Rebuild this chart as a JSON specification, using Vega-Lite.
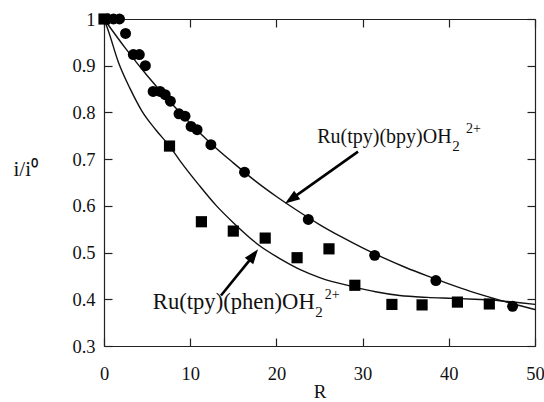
{
  "$schema": "https://vega.github.io/schema/vega-lite/v6.json",
  "width": 431,
  "height": 327,
  "autosize": "none",
  "padding": {"left": 104, "top": 19, "right": 9, "bottom": 56},
  "background": "white",
  "config": {
    "view": {"stroke": null},
    "font": "Liberation Serif",
    "style": {
      "guide-label": {"font": "Liberation Serif", "fontSize": 18.5, "fill": "#111"},
      "guide-title": {"font": "Liberation Serif", "fontSize": 20, "fontWeight": "normal", "fill": "#111"}
    },
    "axis": {
      "grid": false,
      "domainColor": "#222",
      "tickColor": "#222",
      "domainWidth": 1.2,
      "tickWidth": 1.2,
      "tickSize": -8,
      "labelFont": "Liberation Serif",
      "titleFont": "Liberation Serif"
    }
  },
  "datasets": {
    "bpy": [
      {"R": 0.4, "v": 1.0}, {"R": 1.1, "v": 1.0}, {"R": 1.8, "v": 1.0},
      {"R": 2.5, "v": 0.969}, {"R": 3.4, "v": 0.924}, {"R": 4.1, "v": 0.924},
      {"R": 4.8, "v": 0.9}, {"R": 5.7, "v": 0.845}, {"R": 6.5, "v": 0.845},
      {"R": 7.1, "v": 0.838}, {"R": 7.7, "v": 0.824}, {"R": 8.7, "v": 0.797},
      {"R": 9.4, "v": 0.792}, {"R": 10.1, "v": 0.77}, {"R": 10.8, "v": 0.763},
      {"R": 12.4, "v": 0.731}, {"R": 16.3, "v": 0.672}, {"R": 23.7, "v": 0.571},
      {"R": 31.4, "v": 0.494}, {"R": 38.5, "v": 0.44}, {"R": 47.4, "v": 0.385}
    ],
    "phen": [
      {"R": 0.0, "v": 1.0}, {"R": 7.6, "v": 0.728}, {"R": 11.3, "v": 0.566},
      {"R": 15.0, "v": 0.546}, {"R": 18.7, "v": 0.531}, {"R": 22.4, "v": 0.489},
      {"R": 26.1, "v": 0.508}, {"R": 29.1, "v": 0.43}, {"R": 33.4, "v": 0.389},
      {"R": 36.9, "v": 0.388}, {"R": 41.0, "v": 0.394}, {"R": 44.7, "v": 0.39}
    ],
    "bpyfit": [
      {"R": 0, "v": 1.0}, {"R": 2.5, "v": 0.937}, {"R": 5, "v": 0.879},
      {"R": 7.5, "v": 0.826}, {"R": 10, "v": 0.777}, {"R": 12.5, "v": 0.732},
      {"R": 15, "v": 0.692}, {"R": 17.5, "v": 0.654}, {"R": 20, "v": 0.62},
      {"R": 22.5, "v": 0.589}, {"R": 25, "v": 0.56}, {"R": 27.5, "v": 0.534},
      {"R": 30, "v": 0.51}, {"R": 32.5, "v": 0.488}, {"R": 35, "v": 0.468},
      {"R": 37.5, "v": 0.45}, {"R": 40, "v": 0.433}, {"R": 42.5, "v": 0.417},
      {"R": 45, "v": 0.403}, {"R": 47.5, "v": 0.39}, {"R": 50, "v": 0.378}
    ],
    "phenfit": [
      {"R": 0, "v": 1.0}, {"R": 0.5, "v": 0.975}, {"R": 1.66, "v": 0.908},
      {"R": 3, "v": 0.852}, {"R": 4.4, "v": 0.803}, {"R": 6, "v": 0.763},
      {"R": 7.6, "v": 0.728}, {"R": 8.8, "v": 0.697}, {"R": 11, "v": 0.645},
      {"R": 13, "v": 0.601}, {"R": 15, "v": 0.564}, {"R": 18.1, "v": 0.514},
      {"R": 20.5, "v": 0.486}, {"R": 22.7, "v": 0.464}, {"R": 25.1, "v": 0.446},
      {"R": 28.9, "v": 0.427}, {"R": 31.5, "v": 0.416}, {"R": 34.3, "v": 0.408},
      {"R": 37.5, "v": 0.404}, {"R": 40.5, "v": 0.402}, {"R": 43, "v": 0.4},
      {"R": 45.9, "v": 0.397}, {"R": 48, "v": 0.393}, {"R": 50, "v": 0.389}
    ],
    "arrows": [
      {"name": "bpy", "R": 29.47, "v": 0.716, "R2": 21.75, "v2": 0.615, "tipR": 21.0, "tipV": 0.605},
      {"name": "phen", "R": 13.57, "v": 0.408, "R2": 17.3, "v2": 0.493, "tipR": 17.87, "tipV": 0.507}
    ],
    "labels": [
      {"R": 40.33, "v": 0.735, "t": "Ru(tpy)(bpy)OH"}
    ],
    "labels2": [
      {"R": 24.45, "v": 0.38, "t": "Ru(tpy)(phen)OH"}
    ],
    "subs": [
      {"R": 40.4, "v": 0.718, "t": "2"},
      {"R": 24.52, "v": 0.362, "t": "2"}
    ],
    "sups": [
      {"R": 42.0, "v": 0.755, "t": "2+"},
      {"R": 25.6, "v": 0.4, "t": "2+"}
    ]
  },
  "resolve": {"axis": {"x": "independent", "y": "independent"}},
  "layer": [
    {
      "data": {"name": "bpyfit"},
      "mark": {"type": "line", "color": "#111", "strokeWidth": 1.4, "interpolate": "monotone"},
      "encoding": {
        "x": {"field": "R", "type": "quantitative", "scale": {"domain": [0, 50], "nice": false},
              "axis": {"orient": "bottom", "values": [0, 10, 20, 30, 40, 50], "title": "R", "labelPadding": 26, "labelFlush": false,
                       "labelFont": "Liberation Serif", "labelFontSize": 18.5, "labelColor": "#111",
                       "titleFont": "Liberation Serif", "titleFontSize": 19, "titleFontWeight": "normal", "titleColor": "#111",
                       "titleBaseline": "alphabetic", "titleY": 51}},
        "y": {"field": "v", "type": "quantitative", "scale": {"domain": [0.3, 1], "nice": false, "zero": false},
              "axis": {"orient": "left", "values": [0.3, 0.4, 0.5, 0.6, 0.7, 0.8, 0.9, 1], "format": "~g", "labelPadding": 17, "labelFlush": false,
                       "labelFont": "Liberation Serif", "labelFontSize": 18.5, "labelColor": "#111",
                       "title": "i/i⁰", "titleFont": "Liberation Serif", "titleFontSize": 21, "titleFontWeight": "normal", "titleColor": "#111",
                       "titleAngle": 0, "titleAlign": "left", "titleBaseline": "alphabetic", "titleX": -91, "titleY": 156}}
      }
    },
    {
      "data": {"name": "phenfit"},
      "mark": {"type": "line", "color": "#111", "strokeWidth": 1.4, "interpolate": "monotone"},
      "encoding": {
        "x": {"field": "R", "type": "quantitative", "scale": {"domain": [0, 50], "nice": false},
              "axis": {"orient": "top", "values": [0, 10, 20, 30, 40, 50], "labels": false, "title": null}},
        "y": {"field": "v", "type": "quantitative", "scale": {"domain": [0.3, 1], "nice": false, "zero": false},
              "axis": {"orient": "right", "values": [0.3, 0.4, 0.5, 0.6, 0.7, 0.8, 0.9, 1], "labels": false, "title": null}}
      }
    },
    {
      "data": {"name": "bpy"},
      "mark": {"type": "point", "shape": "circle", "filled": true, "color": "#000", "size": 120, "opacity": 1},
      "encoding": {
        "x": {"field": "R", "type": "quantitative", "scale": {"domain": [0, 50], "nice": false}, "axis": null},
        "y": {"field": "v", "type": "quantitative", "scale": {"domain": [0.3, 1], "nice": false, "zero": false}, "axis": null}
      }
    },
    {
      "data": {"name": "phen"},
      "mark": {"type": "point", "shape": "square", "filled": true, "color": "#000", "size": 125, "opacity": 1},
      "encoding": {
        "x": {"field": "R", "type": "quantitative", "scale": {"domain": [0, 50], "nice": false}, "axis": null},
        "y": {"field": "v", "type": "quantitative", "scale": {"domain": [0.3, 1], "nice": false, "zero": false}, "axis": null}
      }
    },
    {
      "data": {"name": "arrows"},
      "mark": {"type": "rule", "color": "#000", "strokeWidth": 2.6},
      "encoding": {
        "x": {"field": "R", "type": "quantitative", "scale": {"domain": [0, 50], "nice": false}, "axis": null},
        "y": {"field": "v", "type": "quantitative", "scale": {"domain": [0.3, 1], "nice": false, "zero": false}, "axis": null},
        "x2": {"field": "R2"},
        "y2": {"field": "v2"}
      }
    },
    {
      "data": {"name": "arrows"},
      "transform": [{"filter": "datum.name == 'bpy'"}],
      "mark": {"type": "point", "shape": "M0,0L-0.75,2.1L0.75,2.1Z", "filled": true, "color": "#000", "size": 200, "opacity": 1, "angle": 235},
      "encoding": {
        "x": {"field": "tipR", "type": "quantitative", "scale": {"domain": [0, 50], "nice": false}, "axis": null},
        "y": {"field": "tipV", "type": "quantitative", "scale": {"domain": [0.3, 1], "nice": false, "zero": false}, "axis": null}
      }
    },
    {
      "data": {"name": "arrows"},
      "transform": [{"filter": "datum.name == 'phen'"}],
      "mark": {"type": "point", "shape": "M0,0L-0.75,2.1L0.75,2.1Z", "filled": true, "color": "#000", "size": 200, "opacity": 1, "angle": 37.5},
      "encoding": {
        "x": {"field": "tipR", "type": "quantitative", "scale": {"domain": [0, 50], "nice": false}, "axis": null},
        "y": {"field": "tipV", "type": "quantitative", "scale": {"domain": [0.3, 1], "nice": false, "zero": false}, "axis": null}
      }
    },
    {
      "data": {"name": "labels"},
      "mark": {"type": "text", "align": "right", "baseline": "alphabetic", "font": "Liberation Serif", "fontSize": 20, "color": "#111"},
      "encoding": {
        "x": {"field": "R", "type": "quantitative", "scale": {"domain": [0, 50], "nice": false}, "axis": null},
        "y": {"field": "v", "type": "quantitative", "scale": {"domain": [0.3, 1], "nice": false, "zero": false}, "axis": null},
        "text": {"field": "t"}
      }
    },
    {
      "data": {"name": "labels2"},
      "mark": {"type": "text", "align": "right", "baseline": "alphabetic", "font": "Liberation Serif", "fontSize": 22.6, "color": "#111"},
      "encoding": {
        "x": {"field": "R", "type": "quantitative", "scale": {"domain": [0, 50], "nice": false}, "axis": null},
        "y": {"field": "v", "type": "quantitative", "scale": {"domain": [0.3, 1], "nice": false, "zero": false}, "axis": null},
        "text": {"field": "t"}
      }
    },
    {
      "data": {"name": "subs"},
      "mark": {"type": "text", "align": "left", "baseline": "alphabetic", "font": "Liberation Serif", "fontSize": 15, "color": "#111"},
      "encoding": {
        "x": {"field": "R", "type": "quantitative", "scale": {"domain": [0, 50], "nice": false}, "axis": null},
        "y": {"field": "v", "type": "quantitative", "scale": {"domain": [0.3, 1], "nice": false, "zero": false}, "axis": null},
        "text": {"field": "t"}
      }
    },
    {
      "data": {"name": "sups"},
      "mark": {"type": "text", "align": "left", "baseline": "alphabetic", "font": "Liberation Serif", "fontSize": 14, "color": "#111"},
      "encoding": {
        "x": {"field": "R", "type": "quantitative", "scale": {"domain": [0, 50], "nice": false}, "axis": null},
        "y": {"field": "v", "type": "quantitative", "scale": {"domain": [0.3, 1], "nice": false, "zero": false}, "axis": null},
        "text": {"field": "t"}
      }
    }
  ]
}
